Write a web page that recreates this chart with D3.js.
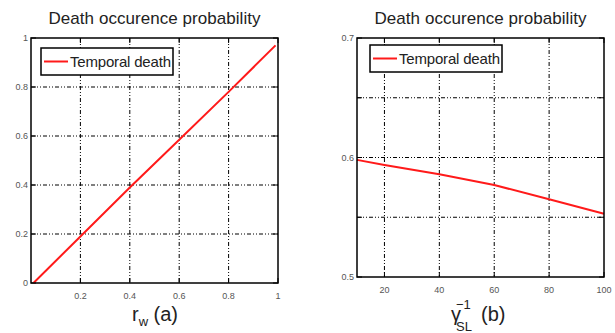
<!DOCTYPE html>
<html lang="en">
<head>
  <meta charset="UTF-8">
  <title>Death occurence probability</title>
  <script src="https://cdn.jsdelivr.net/npm/d3@7"></script>
  <style>
    body { margin: 0; background: #fff; }
    text { font-family: "Liberation Sans", Arial, sans-serif; }
  </style>
</head>
<body>
  <svg width="615" height="333"></svg>
  <script>
    // panel (a)
    let rw = [0.01, 0.2, 0.4, 0.6, 0.8, 0.99];
    let deathA = [0, 0.19, 0.39, 0.585, 0.78, 0.97];
    let xTicksA = [0.2, 0.4, 0.6, 0.8, 1];
    let yTicksA = [0, 0.2, 0.4, 0.6, 0.8, 1];
    // panel (b)
    let gammaInv = [10, 20, 40, 60, 80, 100];
    let deathB = [0.598, 0.5937, 0.586, 0.577, 0.565, 0.553];
    let xTicksB = [20, 40, 60, 80, 100];
    let yTicksB = [0.5, 0.55, 0.6, 0.65, 0.7];
    let yLabelsB = [0.5, 0.6, 0.7];

    let svg = d3.select('svg');

    function panel(opt) {
      let g = svg.append('g');
      let x = d3.scaleLinear().domain(opt.xDomain).range([opt.left, opt.right]);
      let y = d3.scaleLinear().domain(opt.yDomain).range([opt.bottom, opt.top]);

      // grid
      g.selectAll('.vg').data(opt.xTicks.filter(d => d < opt.xDomain[1]))
        .join('line')
        .attr('x1', d => x(d)).attr('x2', d => x(d))
        .attr('y1', opt.top).attr('y2', opt.bottom)
        .attr('stroke', '#000').attr('stroke-width', 1)
        .attr('stroke-dasharray', '4,2,1,2,1,2');
      g.selectAll('.hg').data(opt.yTicks.filter(d => d > opt.yDomain[0] && d < opt.yDomain[1]))
        .join('line')
        .attr('y1', d => y(d)).attr('y2', d => y(d))
        .attr('x1', opt.left).attr('x2', opt.right)
        .attr('stroke', '#000').attr('stroke-width', 1)
        .attr('stroke-dasharray', '4,2,1,2,1,2');

      // inner ticks
      let tl = 5;
      opt.xTicks.forEach(d => {
        g.append('line').attr('x1', x(d)).attr('x2', x(d)).attr('y1', opt.bottom).attr('y2', opt.bottom - tl).attr('stroke', '#000');
        g.append('line').attr('x1', x(d)).attr('x2', x(d)).attr('y1', opt.top).attr('y2', opt.top + tl).attr('stroke', '#000');
      });
      opt.yTicks.forEach(d => {
        g.append('line').attr('y1', y(d)).attr('y2', y(d)).attr('x1', opt.left).attr('x2', opt.left + tl).attr('stroke', '#000');
        g.append('line').attr('y1', y(d)).attr('y2', y(d)).attr('x1', opt.right).attr('x2', opt.right - tl).attr('stroke', '#000');
      });

      // tick labels
      g.selectAll('.xl').data(opt.xTicks)
        .join('text')
        .attr('x', d => x(d)).attr('y', opt.bottom + 16)
        .attr('text-anchor', 'middle')
        .attr('font-size', 9).attr('fill', '#555')
        .text(d => d);
      g.selectAll('.yl').data(opt.yLabels)
        .join('text')
        .attr('x', opt.left - 3).attr('y', d => y(d) + 3)
        .attr('text-anchor', 'end')
        .attr('font-size', 9).attr('fill', '#555')
        .text(d => d);

      // data line
      let line = d3.line().x((d, i) => x(opt.xs[i])).y(d => y(d));
      g.append('path').datum(opt.ys)
        .attr('d', line)
        .attr('fill', 'none').attr('stroke', '#ff1a1a').attr('stroke-width', 2);

      // frame
      g.append('rect')
        .attr('x', opt.left).attr('y', opt.top)
        .attr('width', opt.right - opt.left).attr('height', opt.bottom - opt.top)
        .attr('fill', 'none').attr('stroke', '#000').attr('stroke-width', 1.5);

      // legend
      let lg = g.append('g').attr('transform', `translate(${opt.legX},${opt.legY})`);
      lg.append('rect').attr('width', 132).attr('height', 27)
        .attr('fill', '#fff').attr('stroke', '#000').attr('stroke-width', 1.5);
      lg.append('line').attr('x1', 3).attr('x2', 27).attr('y1', 13.5).attr('y2', 13.5)
        .attr('stroke', '#ff1a1a').attr('stroke-width', 2);
      lg.append('text').attr('x', 29).attr('y', 19)
        .attr('font-size', 15).attr('fill', '#222').attr('textLength', 101)
        .text('Temporal death');

      // title
      g.append('text')
        .attr('x', (opt.left + opt.right) / 2).attr('y', 24)
        .attr('text-anchor', 'middle').attr('font-size', 17).attr('fill', '#222')
        .attr('textLength', 212)
        .text('Death occurence probability');

      return { g, x, y };
    }

    let pa = panel({
      left: 31, right: 278, top: 38, bottom: 283,
      xDomain: [0, 1], yDomain: [0, 1],
      xTicks: xTicksA, yTicks: yTicksA, yLabels: yTicksA,
      xs: rw, ys: deathA, legX: 41, legY: 48
    });
    pa.g.append('text')
      .attr('x', 155).attr('y', 321)
      .attr('text-anchor', 'middle').attr('font-size', 20).attr('fill', '#222')
      .html('r<tspan dy="5" font-size="13">w</tspan><tspan dy="-5"> (a)</tspan>');

    let pb = panel({
      left: 357, right: 604, top: 38, bottom: 277,
      xDomain: [10, 100], yDomain: [0.5, 0.7],
      xTicks: xTicksB, yTicks: yTicksB, yLabels: yLabelsB,
      xs: gammaInv, ys: deathB, legX: 370, legY: 45
    });
    // gamma_SL^-1 (b) label
    pb.g.append('text').attr('x', 451).attr('y', 321)
      .attr('font-size', 20).attr('fill', '#222').text('γ');
    pb.g.append('text').attr('x', 456).attr('y', 309)
      .attr('font-size', 13).attr('fill', '#222').text('−1');
    pb.g.append('text').attr('x', 456).attr('y', 331)
      .attr('font-size', 13).attr('fill', '#222').text('SL');
    pb.g.append('text').attr('x', 481).attr('y', 321)
      .attr('font-size', 20).attr('fill', '#222').text('(b)');
  </script>
</body>
</html>
